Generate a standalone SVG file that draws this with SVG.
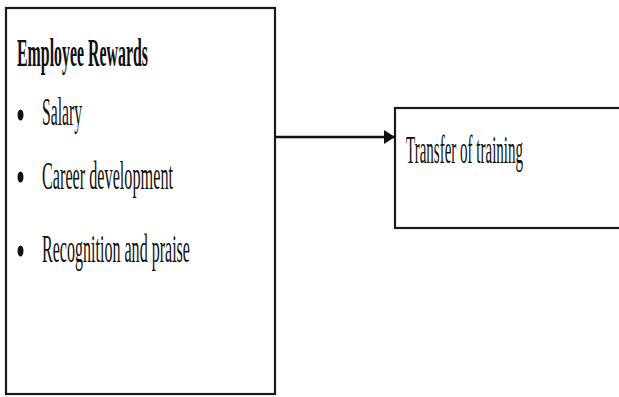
<svg xmlns="http://www.w3.org/2000/svg" width="619" height="397" viewBox="0 0 619 397">
<style>
.box{fill:#fff;stroke:#1a1a1a;stroke-width:2.2}
.t{font-family:"Liberation Serif","Times New Roman",serif;font-size:39px;fill:#111}
.b{font-weight:bold}
.edge{stroke:#111;stroke-width:2.4;fill:none}
</style>
<defs>
<marker id="ah" viewBox="0 0 11 14" refX="11" refY="7" markerWidth="11" markerHeight="14" markerUnits="userSpaceOnUse" orient="auto">
<path d="M0,0 L11,7 L0,14 Z" fill="#111"/>
</marker>
</defs>
<rect width="619" height="397" fill="#fff"/>
<g id="rewards">
<rect class="box" x="6" y="8" width="269" height="386"/>
<text class="t b" transform="scale(0.5,1)" x="34" y="66" textLength="262" lengthAdjust="spacingAndGlyphs">Employee Rewards</text>
<ellipse cx="20.5" cy="115" rx="3" ry="5.5" fill="#111"/>
<text class="t" transform="scale(0.5,1)" x="84" y="125" textLength="80" lengthAdjust="spacingAndGlyphs">Salary</text>
<ellipse cx="20.5" cy="177" rx="3" ry="5.5" fill="#111"/>
<text class="t" transform="scale(0.5,1)" x="84" y="189" textLength="262" lengthAdjust="spacingAndGlyphs">Career development</text>
<ellipse cx="20.5" cy="251" rx="3" ry="5.5" fill="#111"/>
<text class="t" transform="scale(0.5,1)" x="84" y="262" textLength="296" lengthAdjust="spacingAndGlyphs">Recognition and praise</text>
</g>
<g id="transfer">
<rect class="box" x="395" y="108" width="226" height="120"/>
<text class="t" transform="scale(0.5,1)" x="812" y="163" textLength="234" lengthAdjust="spacingAndGlyphs">Transfer of training</text>
</g>
<g id="connectors">
<line class="edge" x1="276" y1="137" x2="395" y2="137" marker-end="url(#ah)"/>
</g>
</svg>
